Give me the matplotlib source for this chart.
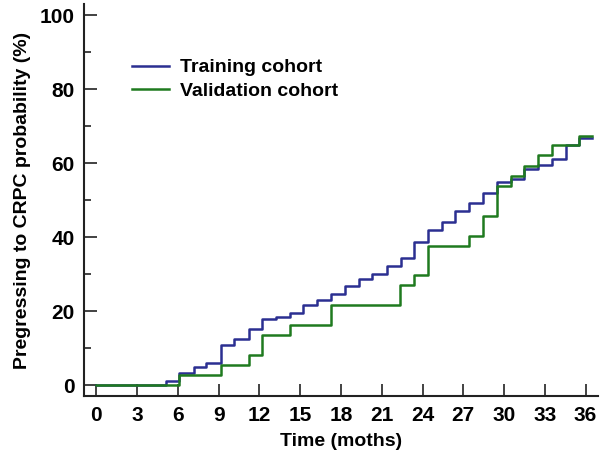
import numpy as np
import matplotlib
matplotlib.use("Agg")
import matplotlib.pyplot as plt
from matplotlib.ticker import MultipleLocator

plt.rcParams['font.family'] = ['Liberation Sans', 'DejaVu Sans']
plt.rcParams['font.weight'] = 'bold'

# step times (months) and cumulative probability (%)
train_t = [0, 5.1, 6.1, 7.15, 8.1, 9.15, 10.15, 11.2, 12.2, 13.2, 14.25, 15.2, 16.25,
           17.25, 18.3, 19.3, 20.3, 21.35, 22.4, 23.4, 24.4, 25.4, 26.4, 27.4, 28.45,
           29.45, 30.5, 31.5, 32.5, 33.5, 34.55, 35.55, 36.5]
train_v = [0, 1.2, 3.2, 4.8, 6.1, 10.8, 12.4, 15.1, 17.8, 18.4, 19.6, 21.6, 23.0,
           24.6, 26.8, 28.8, 30.0, 32.3, 34.4, 38.7, 41.9, 44.1, 47.0, 49.1, 51.8,
           54.9, 55.6, 58.4, 59.5, 61.1, 64.9, 66.7, 66.7]

valid_t = [0, 6.1, 9.15, 11.2, 12.2, 14.25, 17.25, 22.35, 23.4, 24.4, 27.4, 28.45,
           29.45, 30.5, 31.5, 32.5, 33.5, 35.55, 36.5]
valid_v = [0, 2.7, 5.4, 8.1, 13.5, 16.2, 21.6, 27.0, 29.7, 37.6, 40.4, 45.8,
           53.9, 56.6, 59.3, 62.2, 64.9, 67.4, 67.4]

x_ticks = list(range(0, 37, 3))
y_ticks = [0, 20, 40, 60, 80, 100]

fig = plt.figure(figsize=(6.1, 4.58), dpi=100)
ax = fig.add_axes([0.138, 0.135, 0.842, 0.856])

ax.step(train_t, train_v, where='post', color='#2b2f91', lw=1.8, label='Training cohort')
ax.step(valid_t, valid_v, where='post', color='#1f7a1f', lw=1.8, label='Validation cohort')

ax.set_xlim(-0.9, 36.9)
ax.set_ylim(-3, 103)
ax.set_xticks(x_ticks)
ax.set_yticks(y_ticks)
ax.yaxis.set_minor_locator(MultipleLocator(10))
ax.tick_params(axis='both', which='major', direction='in', length=9, width=1.2,
               labelsize=15, color='#222222')
ax.tick_params(axis='y', which='minor', direction='in', length=5, width=1.2, color='#222222')
ax.tick_params(axis='x', pad=7)
ax.tick_params(axis='y', pad=7)

for s in ['top', 'right']:
    ax.spines[s].set_visible(False)
for s in ['left', 'bottom']:
    ax.spines[s].set_linewidth(1.5)
    ax.spines[s].set_color('#222222')

ax.set_xlabel('Time (moths)', fontsize=14, fontweight='bold', labelpad=6)
ax.set_ylabel('Pregressing to CRPC probability (%)', fontsize=14, fontweight='bold', labelpad=6)

ax.legend(loc='upper left', bbox_to_anchor=(0.06, 0.905), frameon=False, fontsize=14,
          handlelength=1.9, handletextpad=0.55, labelspacing=0.3)

fig.savefig('out.png', dpi=100)
